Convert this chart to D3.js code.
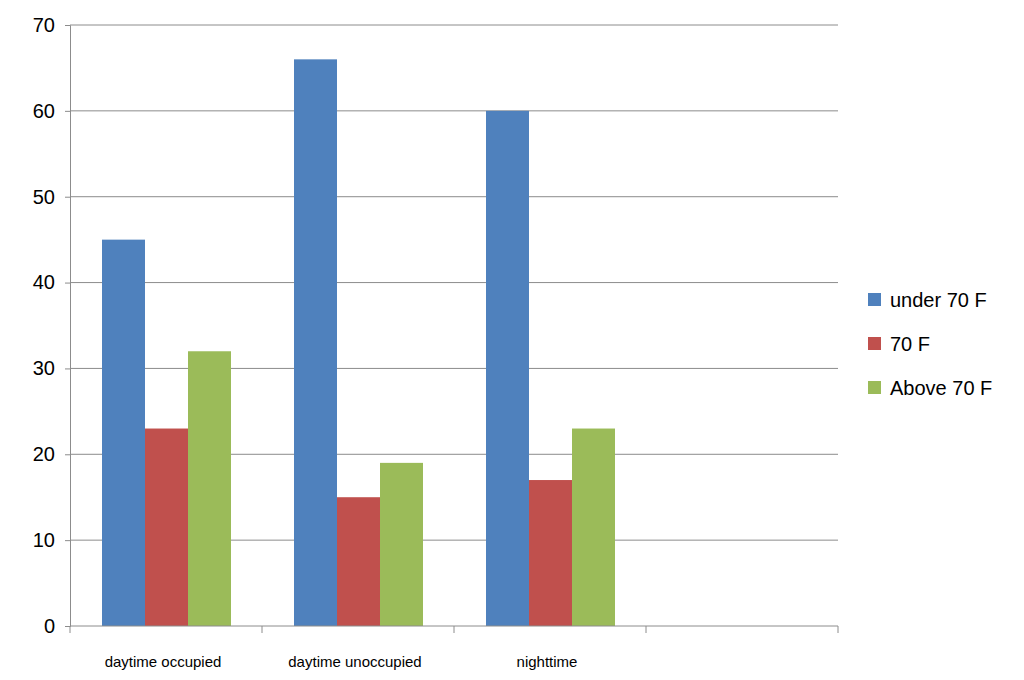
<!DOCTYPE html>
<html><head><meta charset="utf-8">
<script src="https://cdn.jsdelivr.net/npm/d3@7"></script>
<style>body{margin:0;background:#fff}text{font-family:"Liberation Sans",Arial,sans-serif}</style>
</head><body>
<svg id="c" width="1024" height="680"></svg>
<script>
const categories = ["daytime occupied","daytime unoccupied","nighttime",""];
const seriesNames = ["under 70 F","70 F","Above 70 F"];
const under70 = [45,66,60,null];
const at70 = [23,15,17,null];
const above70 = [32,19,23,null];
const yTicks = [0,10,20,30,40,50,60,70];
const colors = ["#4F81BD","#C0504D","#9BBB59"];
const series = [under70, at70, above70];

const svg = d3.select("#c");
const L=70,R=838,T=25,B=626;
const x = d3.scaleBand().domain(categories).range([L,R]).paddingInner(0).paddingOuter(0);
const y = d3.scaleLinear().domain([0,70]).range([B,T]);
const inner = d3.scaleBand().domain(seriesNames).range([32, x.bandwidth()-31]);

svg.append("g").selectAll("line").data(yTicks.slice(1)).join("line")
  .attr("x1",L).attr("x2",R).attr("y1",d=>y(d)).attr("y2",d=>y(d))
  .attr("stroke","#8c8c8c").attr("stroke-width",1);

series.forEach((s,i)=>{
  svg.append("g").selectAll("rect").data(categories.map((c,j)=>({c,v:s[j]})).filter(d=>d.v!=null)).join("rect")
    .attr("x",d=>x(d.c)+inner(seriesNames[i])).attr("width",inner.bandwidth())
    .attr("y",d=>y(d.v)).attr("height",d=>B-y(d.v)).attr("fill",colors[i]);
});

const ya = d3.axisLeft(y).tickValues(yTicks).tickSize(5).tickPadding(10);
const gy = svg.append("g").attr("transform",`translate(${L},0)`).call(ya);
gy.selectAll("text").attr("font-size",20).attr("fill","#000").style("font-family","Liberation Sans, Arial");
gy.selectAll("line,path").attr("stroke","#8c8c8c");

const gx = svg.append("g");
gx.append("line").attr("x1",L).attr("x2",R).attr("y1",B).attr("y2",B).attr("stroke","#8c8c8c");
gx.selectAll("line.t").data(categories.map(c=>x(c)).concat([R])).join("line").attr("class","t")
  .attr("x1",d=>d).attr("x2",d=>d).attr("y1",B).attr("y2",B+7).attr("stroke","#8c8c8c");
gx.selectAll("text").data(categories).join("text")
  .attr("x",d=>x(d)+x.bandwidth()/2-3).attr("y",667).attr("text-anchor","middle")
  .attr("font-size",15).text(d=>d);

const lg = svg.append("g");
seriesNames.forEach((n,i)=>{
  const yy = 300+i*44;
  lg.append("rect").attr("x",868).attr("y",yy-7).attr("width",13).attr("height",13).attr("fill",colors[i]);
  lg.append("text").attr("x",890).attr("y",yy+7).attr("font-size",20).text(n);
});
</script></body></html>
